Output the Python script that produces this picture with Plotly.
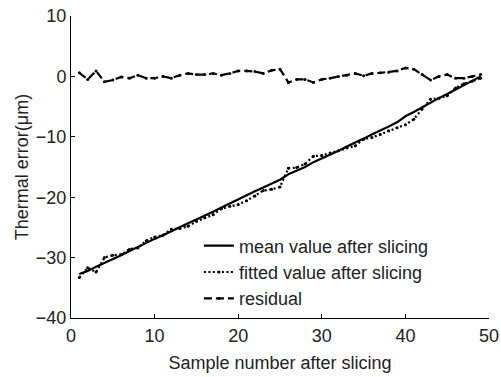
import plotly.graph_objects as go

samples = list(range(1, 50))
mean_values = [-32.7, -32.2, -31.5, -30.9, -30.2, -29.6, -28.9, -28.2, -27.5, -26.9,
               -26.3, -25.6, -25.0, -24.3, -23.7, -23.1, -22.4, -21.7, -21.0, -20.3,
               -19.7, -19.0, -18.4, -17.7, -17.1, -16.2, -15.6, -15.0, -14.2, -13.6,
               -13.0, -12.3, -11.6, -11.0, -10.3, -9.6, -9.0, -8.3, -7.6, -6.6,
               -5.9, -5.1, -4.4, -3.6, -2.9, -2.2, -1.5, -0.8, 0.0]
fitted_values = [-33.3, -31.7, -32.4, -30.0, -29.6, -29.5, -28.6, -28.4, -27.2, -26.6,
                 -26.3, -25.3, -25.2, -24.8, -24.0, -23.4, -22.9, -21.9, -21.5, -21.2,
                 -20.6, -19.8, -18.9, -18.7, -18.3, -15.2, -15.1, -14.5, -13.2, -13.1,
                 -12.7, -12.3, -11.8, -11.5, -10.4, -10.1, -9.6, -9.0, -8.5, -8.0,
                 -7.1, -5.4, -3.8, -3.6, -3.2, -1.9, -1.2, -0.8, -0.3]
residuals = [0.6, -0.5, 0.9, -0.9, -0.6, -0.1, -0.3, 0.2, -0.3, -0.3,
             0.0, -0.3, 0.2, 0.5, 0.3, 0.3, 0.5, 0.2, 0.5, 0.9,
             0.9, 0.8, 0.5, 1.0, 1.2, -1.0, -0.5, -0.5, -1.0, -0.5,
             -0.3, 0.0, 0.2, 0.5, 0.1, 0.5, 0.6, 0.7, 0.9, 1.4,
             1.2, 0.3, -0.6, 0.0, 0.3, -0.3, -0.3, 0.0, 0.3]

x_ticks = [0, 10, 20, 30, 40, 50]
y_ticks = [-40, -30, -20, -10, 0, 10]

FONT = "Liberation Sans, Arial, sans-serif"
TXT = "#222"

fig = go.Figure()
fig.add_trace(go.Scatter(x=samples, y=mean_values, mode="lines",
                         name="mean value after slicing",
                         line=dict(color="black", width=2.2)))
fig.add_trace(go.Scatter(x=samples, y=fitted_values, mode="lines+markers",
                         name="fitted value after slicing",
                         line=dict(color="black", width=2.2, dash="2px,2.5px"),
                         marker=dict(color="black", size=3)))
fig.add_trace(go.Scatter(x=samples, y=residuals, mode="lines+markers",
                         name="residual",
                         line=dict(color="black", width=2.2, dash="8px,4px"),
                         marker=dict(color="black", size=3)))

axis_common = dict(showline=True, linecolor="black", linewidth=1, ticks="inside",
                   ticklen=4, tickcolor="black", showgrid=False, zeroline=False,
                   tickfont=dict(family=FONT, size=18, color=TXT),
                   mirror=False, automargin=False)

fig.update_xaxes(range=[0, 50], tickvals=x_ticks, ticklabelstandoff=1,
                 title=dict(text="Sample number after slicing",
                            font=dict(family=FONT, size=18, color=TXT), standoff=11),
                 **axis_common)
fig.update_yaxes(range=[-40, 10], tickvals=y_ticks,
                 title=dict(text="Thermal error(μm)",
                            font=dict(family=FONT, size=18, color=TXT), standoff=2),
                 **axis_common)

fig.update_layout(
    width=501, height=377,
    margin=dict(l=71, r=12, t=16, b=59),
    paper_bgcolor="white", plot_bgcolor="white",
    showlegend=True,
    legend=dict(x=0.306, y=0.30, xanchor="left", yanchor="top",
                bgcolor="rgba(0,0,0,0)", borderwidth=0,
                font=dict(family=FONT, size=18, color=TXT),
                tracegroupgap=0),
)

fig.write_html("out.html")
